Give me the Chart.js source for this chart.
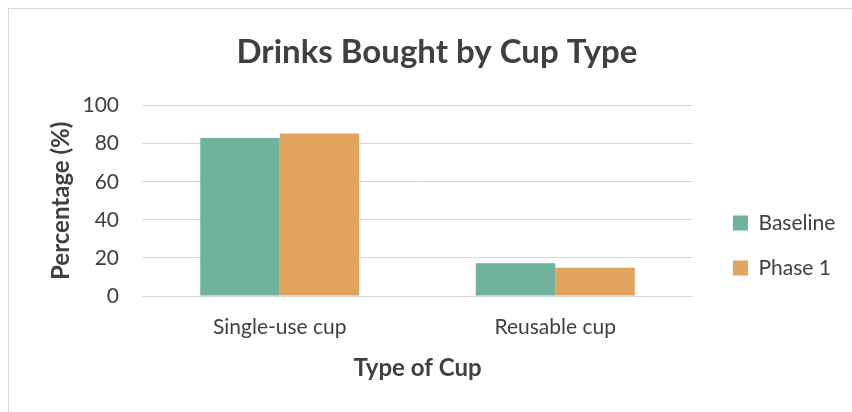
<!DOCTYPE html>
<html>
<head>
<meta charset="utf-8">
<script src="https://cdn.jsdelivr.net/npm/chart.js@4/dist/chart.umd.min.js"></script>
<style>
  html, body { margin: 0; padding: 0; background: #ffffff; }
  #wrap { width: 852px; height: 412px; }
</style>
</head>
<body>
<div id="wrap"><canvas id="cups" width="852" height="412"></canvas></div>
<script>
// datos
const cupTypes = ['Single-use cup', 'Reusable cup'];
const baselinePct = [83.0, 17.2];
const phase1Pct = [85.3, 14.9];
const yTicks = [0, 20, 40, 60, 80, 100];

const INK = '#404040';
const FONT = 'Lato, "Open Sans", sans-serif';

// marco gris claro alrededor del gráfico
const frame = {
    id: 'chartFrame',
    beforeDraw(c) {
        const { ctx } = c;
        ctx.save();
        ctx.fillStyle = '#ffffff';
        ctx.fillRect(0, 0, c.width, c.height);
        ctx.strokeStyle = '#d9d9d9';
        ctx.lineWidth = 1;
        ctx.strokeRect(8.5, 8.5, c.width + 20, c.height + 20);
        ctx.restore();
    },
};

// leyenda a la derecha: ancho fijo y algo separada del área de trazado
const legendNudge = {
    id: 'legendNudge',
    beforeLayout(c) {
        const lg = c.legend;
        if (!lg || lg._fixedFit) return;
        const fit = lg.fit.bind(lg);
        lg.fit = function () {
            fit();
            this.width = 159;
        };
        lg._fixedFit = true;
    },
    afterLayout(c) {
        const lg = c.legend;
        if (!lg) return;
        const dx = c.chartArea.right + 16 - lg.left;
        const dy = c.chartArea.top + 83 - lg.top;
        lg.left += dx; lg.right += dx;
        lg.top += dy; lg.bottom += dy;
    },
};

new Chart(document.getElementById('cups'), {
    type: 'bar',
    data: {
        labels: cupTypes,
        datasets: [
            { label: 'Baseline', data: baselinePct, backgroundColor: '#70b29b', borderWidth: 0 },
            { label: 'Phase 1', data: phase1Pct, backgroundColor: '#e0a45e', borderWidth: 0 },
        ],
    },
    options: {
        responsive: false,
        animation: false,
        devicePixelRatio: 1,
        layout: { padding: { top: 10, left: 22, right: 0, bottom: 29 } },
        datasets: { bar: { barPercentage: 1, categoryPercentage: 0.577 } },
        plugins: {
            tooltip: { enabled: false },
            title: {
                display: true,
                text: 'Drinks Bought by Cup Type',
                color: INK,
                font: { family: FONT, size: 33, weight: 'bold', lineHeight: 1.2 },
                padding: { top: 23, bottom: 33 },
            },
            legend: {
                position: 'right',
                align: 'start',
                labels: {
                    color: INK,
                    font: { family: FONT, size: 21 },
                    boxWidth: 15,
                    boxHeight: 15,
                    padding: 24,
                },
            },
        },
        scales: {
            x: {
                afterFit(s) { s.height = 87; },
                grid: { display: false, drawTicks: false },
                border: { display: false },
                ticks: { color: INK, font: { family: FONT, size: 21, lineHeight: 1.2 }, padding: 19 },
                title: {
                    display: true,
                    text: 'Type of Cup',
                    color: INK,
                    font: { family: FONT, size: 24, weight: 'bold', lineHeight: 1.2 },
                    padding: { top: 14, bottom: 0 },
                },
            },
            y: {
                min: 0,
                max: 100,
                afterBuildTicks(s) { s.ticks = yTicks.map((v) => ({ value: v })); },
                afterFit(s) { s.width = 120; },
                grid: { color: '#d9d9d9', lineWidth: 1, drawTicks: false },
                border: { display: false },
                ticks: { color: INK, font: { family: FONT, size: 21 }, padding: 23 },
                title: {
                    display: true,
                    text: 'Percentage (%)',
                    color: INK,
                    font: { family: FONT, size: 24, weight: 'bold', lineHeight: 1.2 },
                    padding: { top: 25, bottom: 0 },
                },
            },
        },
    },
    plugins: [frame, legendNudge],
});
</script>
</body>
</html>
